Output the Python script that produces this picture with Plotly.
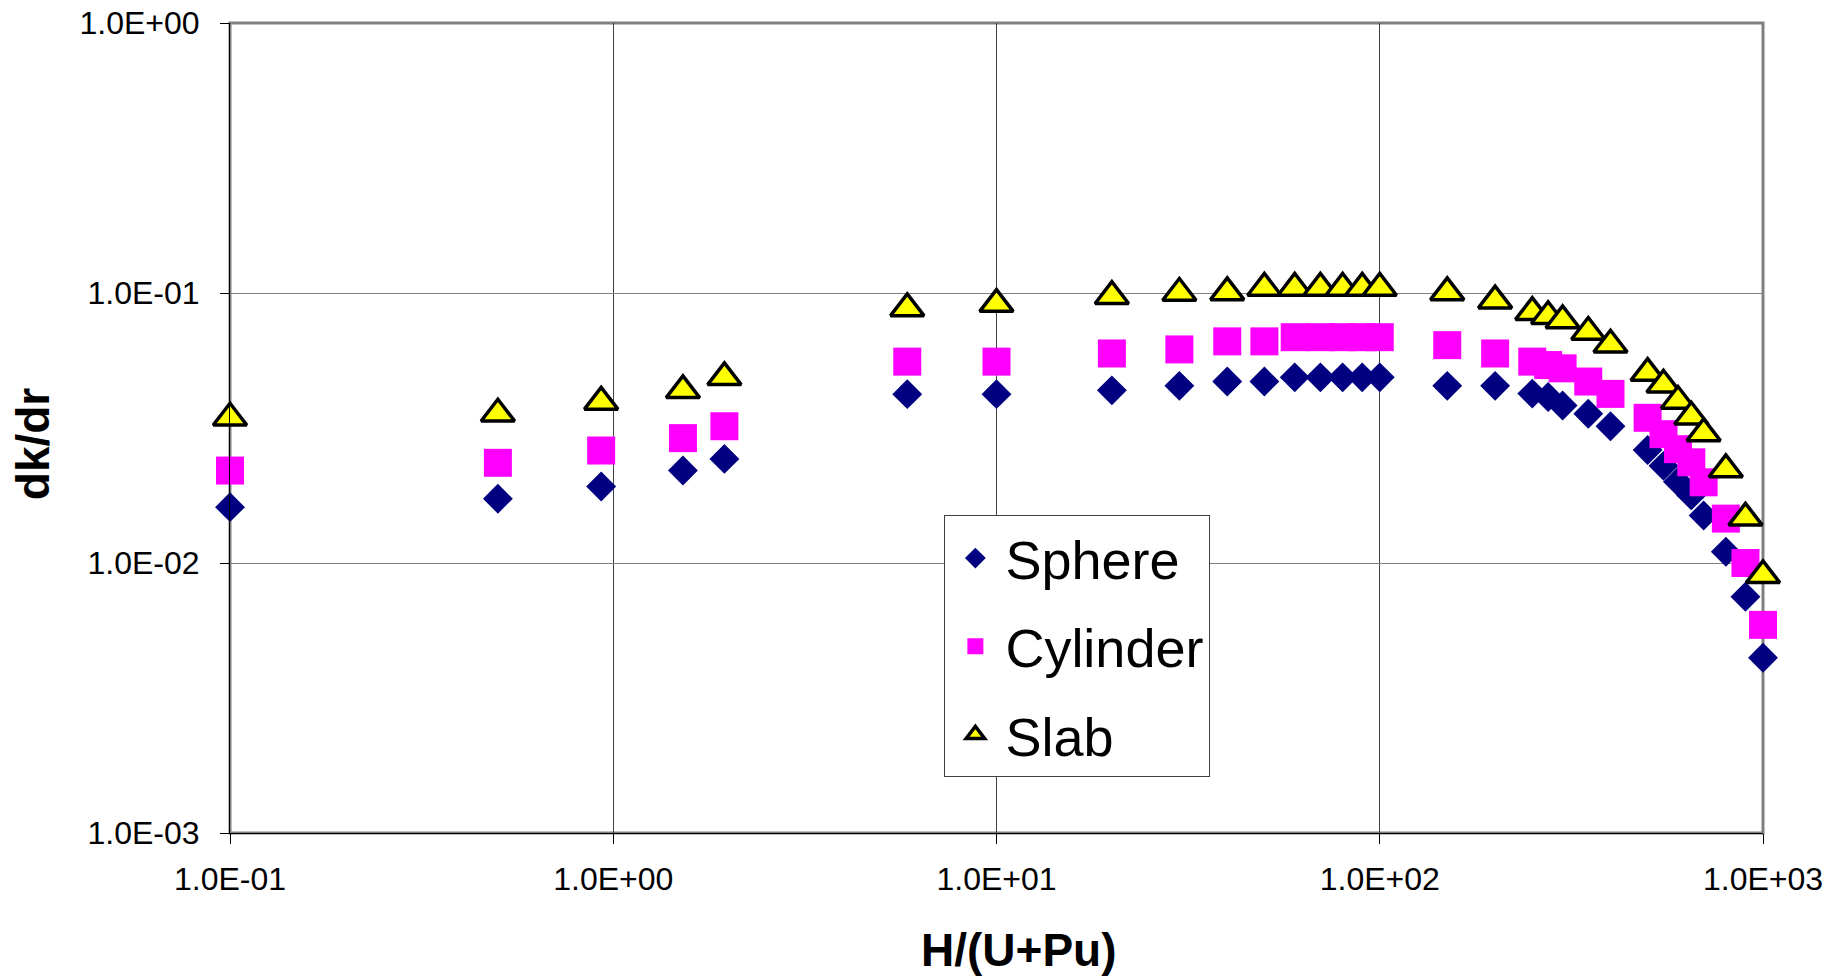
import plotly.graph_objects as go

# H/(U+Pu) ratio
x_ratio = [0.1, 0.5, 0.93, 1.52, 1.95, 5.85, 10, 20, 30, 40, 50, 60, 70, 80, 90, 100,
           150, 200, 250, 275, 300, 350, 400, 500, 550, 600, 650, 700, 800, 900, 1000]

sphere = [0.0161, 0.0173, 0.0192, 0.0220, 0.0243, 0.0422, 0.0422, 0.0436, 0.0453, 0.0470,
          0.0470, 0.0487, 0.0487, 0.0487, 0.0487, 0.0487, 0.0453, 0.0453, 0.0424, 0.0412,
          0.0383, 0.0357, 0.0321, 0.0262, 0.0229, 0.0200, 0.0178, 0.0150, 0.0110, 0.0075, 0.00446]

cylinder = [0.0220, 0.0235, 0.0261, 0.0290, 0.0321, 0.0557, 0.0557, 0.0597, 0.0618, 0.0662,
            0.0662, 0.0686, 0.0686, 0.0686, 0.0686, 0.0686, 0.0641, 0.0597, 0.0557, 0.0541,
            0.0526, 0.0470, 0.0423, 0.0345, 0.0300, 0.0264, 0.0236, 0.0199, 0.0146, 0.0100, 0.0059]

slab = [0.0345, 0.0357, 0.0395, 0.0436, 0.0487, 0.0877, 0.0910, 0.0973, 0.1000, 0.1005,
        0.1044, 0.1044, 0.1044, 0.1044, 0.1044, 0.1044, 0.1005, 0.0937, 0.0849, 0.0820,
        0.0791, 0.0717, 0.0643, 0.0505, 0.0457, 0.0398, 0.0348, 0.0302, 0.0222, 0.0147, 0.0090]

x_tickvals = [0.1, 1, 10, 100, 1000]
x_ticktext = ["1.0E-01", "1.0E+00", "1.0E+01", "1.0E+02", "1.0E+03"]
y_tickvals = [0.001, 0.01, 0.1, 1]
y_ticktext = ["1.0E-03", "1.0E-02", "1.0E-01", "1.0E+00"]

FONT = "Liberation Sans, Arial, sans-serif"

fig = go.Figure()
fig.add_trace(go.Scatter(
    x=x_ratio, y=sphere, mode="markers", name="Sphere", legendgroup="a",
    marker=dict(symbol="diamond", size=23, color="#000080", line=dict(width=0)),
    cliponaxis=False))
fig.add_trace(go.Scatter(
    x=x_ratio, y=cylinder, mode="markers", name="Cylinder", legendgroup="b",
    marker=dict(symbol="square", size=28, color="#FF00FF", line=dict(width=0)),
    cliponaxis=False))
fig.add_trace(go.Scatter(
    x=x_ratio, y=slab, mode="markers", name="Slab", legendgroup="c",
    marker=dict(symbol="triangle-up", size=29, color="#FFFF00",
                line=dict(width=3.5, color="#000000")),
    cliponaxis=False))

fig.update_layout(
    width=1833, height=976,
    margin=dict(l=230, r=70, t=23, b=143, autoexpand=False),
    paper_bgcolor="white", plot_bgcolor="white",
    font=dict(family=FONT, color="black", size=32),
    showlegend=True,
    legend=dict(
        x=0.466, y=0.392, xanchor="left", yanchor="top",
        bgcolor="white", bordercolor="#404040", borderwidth=1,
        font=dict(family=FONT, size=54, color="black"),
        tracegroupgap=15, traceorder="grouped", itemsizing="trace",
        itemwidth=50,
    ),
    xaxis=dict(
        type="log", range=[-1, 3], automargin=False,
        tickvals=x_tickvals, ticktext=x_ticktext,
        ticks="outside", ticklen=10, tickcolor="black", tickwidth=1,
        showgrid=True, gridcolor="#404040", gridwidth=1,
        showline=True, linecolor="black", linewidth=1,
        zeroline=False, ticklabelstandoff=8,
        tickfont=dict(family=FONT, size=32),
    ),
    yaxis=dict(
        type="log", range=[-3, 0], automargin=False,
        tickvals=y_tickvals, ticktext=y_ticktext,
        ticks="outside", ticklen=9, tickcolor="black", tickwidth=1,
        showgrid=True, gridcolor="#808080", gridwidth=1,
        showline=True, linecolor="black", linewidth=1,
        zeroline=False, ticklabelstandoff=14,
        tickfont=dict(family=FONT, size=32),
    ),
    shapes=[dict(type="rect", xref="paper", yref="paper", x0=0, x1=1, y0=0, y1=1,
                 line=dict(color="#808080", width=3), layer="below")],
    annotations=[
        dict(text="<b>H/(U+Pu)</b>", xref="paper", yref="paper", x=0.515, y=-0.1444,
             xanchor="center", yanchor="middle", showarrow=False,
             font=dict(family=FONT, size=46, color="black")),
        dict(text="<b>dk/dr</b>", xref="paper", yref="paper", x=-0.1285, y=0.48,
             xanchor="center", yanchor="middle", showarrow=False, textangle=-90,
             font=dict(family=FONT, size=46, color="black")),
    ],
)

fig.write_html("out.html", config={"displayModeBar": False},
               post_script="document.body.style.margin='0px';document.body.style.overflow='hidden';")
